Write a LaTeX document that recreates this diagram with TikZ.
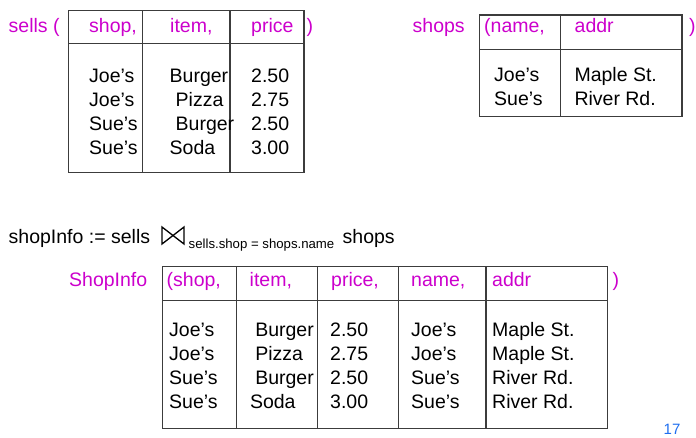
\documentclass[tikz,border=0pt]{standalone}
\usepackage{fontspec}
\setmainfont{Liberation Sans}
\usepackage{xcolor}
\usepackage{tikz}

\definecolor{hdcol}{RGB}{204,0,204}
\definecolor{pgcol}{RGB}{30,110,240}
\definecolor{rulecol}{RGB}{60,60,60}

\begin{document}
\begin{tikzpicture}[x=1pt,y=-1pt,inner sep=0pt,
  txt/.style={anchor=base west,align=left,font=\fontsize{19.5}{24}\selectfont},
  hd/.style={txt,text=hdcol},
  tab/.style={draw=rulecol,line width=1.2pt}]
\useasboundingbox (0,0) rectangle (696,438);

% sells
\draw[tab] (68.3,10.7) rectangle (304,172.3);
\draw[tab] (68.3,43.7) -- (304,43.7);
\draw[tab] (142.3,10.7) -- (142.3,172.3);
\draw[tab] (230,10.7) -- (230,172.3);
\node[hd] (sells) at (8.5,33) {sells (};
\node[hd] (sshop) at (89,33) {shop,};
\node[hd] (sitem) at (170,33) {item,};
\node[hd] (sprice) at (251,33) {price};
\node[hd] (sclose) at (306.5,33) {)};
% multi-line nodes: base = last line
\node[txt] (sshopv) at (89,155) {Joe’s\\Joe’s\\Sue’s\\Sue’s};
\node[txt] (sitemv) at (169.5,155) {Burger\\\hspace*{6pt}Pizza\\\hspace*{6pt}Burger\\Soda};
\node[txt] (spricev) at (251,155) {2.50\\2.75\\2.50\\3.00};

% shops
\draw[tab] (479.3,15) rectangle (682,116.7);
\draw[tab] (479.3,49.3) -- (682,49.3);
\draw[tab] (560.7,15) -- (560.7,116.7);
\node[hd] (shops) at (412.5,33) {shops};
\node[hd] (hname) at (484,33) {(name,};
\node[hd] (haddr) at (574.5,33) {addr};
\node[hd] (hclose) at (689,33) {)};
\node[txt] (namev) at (494,106) {Joe’s\\Sue’s};
\node[txt] (addrv) at (574.3,106) {Maple St.\\River Rd.};

% join
\node[txt] (expr) at (8.5,244) {shopInfo := sells};
\draw[line width=1.3pt,line join=miter] (162,227) -- (184,244) -- (184,227) -- (162,244) -- cycle;
\node[anchor=base west,font=\fontsize{13.2}{15}\selectfont] (cond) at (188.5,248.3) {sells.shop = shops.name};
\node[txt] (rhs) at (342.5,244) {shops};

% shopInfo
\draw[tab] (162.3,266.7) rectangle (607.7,428.3);
\draw[tab] (162.3,300.7) -- (607.7,300.7);
\draw[tab] (236.7,266.7) -- (236.7,428.3);
\draw[tab] (317.7,266.7) -- (317.7,428.3);
\draw[tab] (398.7,266.7) -- (398.7,428.3);
\draw[tab] (486,266.7) -- (486,428.3);
\node[hd] (info) at (69,286.7) {ShopInfo};
\node[hd] (ishop) at (166.5,286.7) {(shop,};
\node[hd] (iitem) at (249.5,286.7) {item,};
\node[hd] (iprice) at (331,286.7) {price,};
\node[hd] (iname) at (411,286.7) {name,};
\node[hd] (iaddr) at (492,286.7) {addr};
\node[hd] (iclose) at (612.5,286.7) {)};
\node[txt] (ishopv) at (169,408) {Joe’s\\Joe’s\\Sue’s\\Sue’s};
\node[txt] (iitemv) at (249.8,408) {\hspace*{5.3pt}Burger\\\hspace*{5.3pt}Pizza\\\hspace*{5.3pt}Burger\\Soda};
\node[txt] (ipricev) at (330,408) {2.50\\2.75\\2.50\\3.00};
\node[txt] (inamev) at (411,408) {Joe’s\\Joe’s\\Sue’s\\Sue’s};
\node[txt] (iaddrv) at (492,408) {Maple St.\\Maple St.\\River Rd.\\River Rd.};

\node[anchor=base west,font=\fontsize{15}{18}\selectfont,text=pgcol] (pg) at (663.5,434) {17};
\end{tikzpicture}
\end{document}
